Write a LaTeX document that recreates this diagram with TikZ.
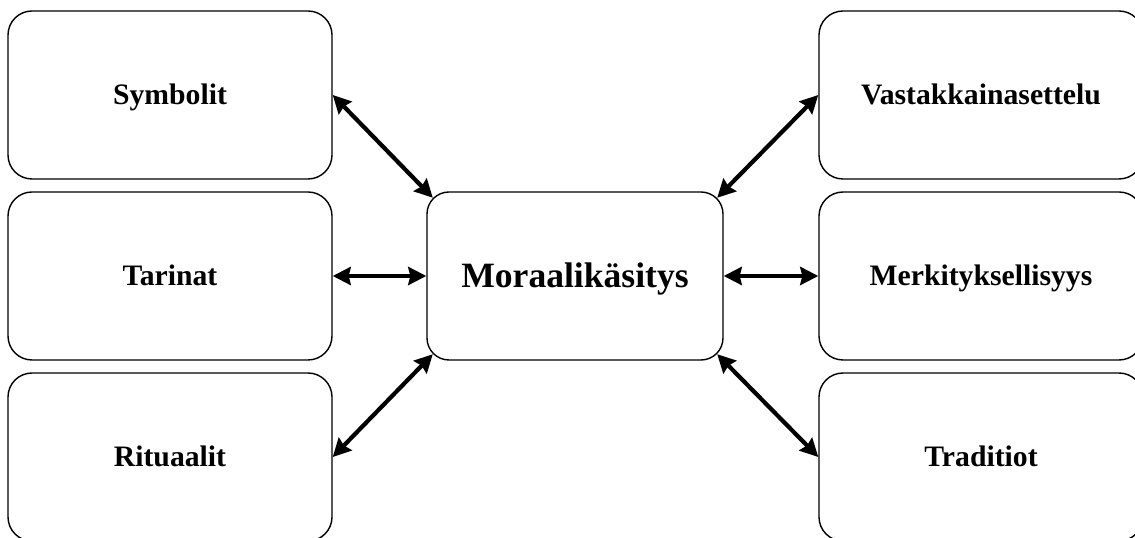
\documentclass[tikz,border=0pt]{standalone}
\usepackage{fontspec}
\setmainfont{Liberation Serif}
\usetikzlibrary{arrows.meta,calc}
\begin{document}
\begin{tikzpicture}[x=1pt,y=1pt,
  box/.style={draw=black,line width=1.4pt,rounded corners=24pt,minimum width=324pt,minimum height=168pt,inner sep=0pt,text height=19.6pt,text depth=0pt,font=\fontsize{29.7}{34}\selectfont\bfseries},
  mainbox/.style={box,minimum width=296pt,rounded corners=22pt,text height=23.5pt,font=\fontsize{35.6}{40}\selectfont\bfseries},
  link/.style={line width=4.2pt,{Stealth[length=18pt,width=18pt,inset=2pt]}-{Stealth[length=18pt,width=18pt,inset=2pt]}}]
\useasboundingbox (0,0) rectangle (1135,538);
\clip (0,0) rectangle (1135,538);
\fill[white] (0,0) rectangle (1135,538);
\node[box] (sym) at (170,443) {Symbolit};
\node[box] (tar) at (170,262) {Tarinat};
\node[box] (rit) at (170,81) {Rituaalit};
\node[box] (vas) at (981,443) {Vastakkainasettelu};
\node[box] (mer) at (981,262) {Merkityksellisyys};
\node[box] (tra) at (981,81) {Traditiot};
\node[mainbox] (mor) at (575,262) {Moraalikäsitys};
\coordinate (mnw) at ($(mor.north west)+(6.5,-6.5)$);
\coordinate (mne) at ($(mor.north east)+(-6.5,-6.5)$);
\coordinate (msw) at ($(mor.south west)+(6.5,6.5)$);
\coordinate (mse) at ($(mor.south east)+(-6.5,6.5)$);
\draw[link] (sym.east) -- (mnw);
\draw[link] (tar.east) -- (mor.west);
\draw[link] (rit.east) -- (msw);
\draw[link] (vas.west) -- (mne);
\draw[link] (mer.west) -- (mor.east);
\draw[link] (tra.west) -- (mse);
\end{tikzpicture}
\end{document}
